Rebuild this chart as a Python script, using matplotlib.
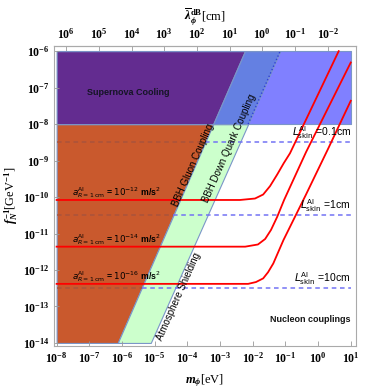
import numpy as np
import matplotlib.pyplot as plt

plt.rcParams["font.family"] = "Liberation Serif"
plt.rcParams["mathtext.fontset"] = "custom"
plt.rcParams["mathtext.rm"] = "Liberation Serif:bold"
plt.rcParams["mathtext.it"] = "Liberation Serif:italic:bold"
plt.rcParams["mathtext.bf"] = "Liberation Serif:bold"

# ---- data, all log10 values ----
mass_range = [-8.0, 1.0]            # log10 m_phi [eV]
supernova_f = [-8.0, -6.0]          # log10 f_N^-1 band excluded by SN cooling

bound_f = [-14.0, -8.0, -6.0]
gluon_m = [-6.13, -3.21, -2.24]     # BBH gluon coupling edge
down_quark_m = [-5.12, -2.14, -1.16]  # BBH down quark coupling / atmosphere edge

skin_f = [-8.5, -10.5, -12.5]
skin_labels = ["0.1cm", "1cm", "10cm"]

acc_labels = ["-12", "-14", "-16"]
curve_m = [
    [-8.0, -2.39, -1.93, -1.68, -1.47, -1.25, -1.05, -0.86, 0.63],
    [-8.0, -2.23, -1.84, -1.62, -1.44, -1.25, -1.04, -0.37, 1.0],
    [-8.0, -2.14, -1.90, -1.68, -1.53, -1.37, -1.22, -1.06, -0.38, 0.31, 1.0],
]
curve_f = [
    [-10.08, -10.08, -10.04, -9.93, -9.70, -9.38, -9.07, -8.80, -6.0],
    [-11.36, -11.36, -11.30, -11.15, -10.90, -10.54, -10.08, -8.77, -6.31],
    [-12.38, -12.38, -12.33, -12.23, -12.06, -11.82, -11.51, -11.18, -9.95, -8.67, -7.36],
]

x_ticks = np.arange(-8, 2)
y_ticks = np.arange(-14, -5)
lam_ticks = np.arange(6, -3, -1)

HBAR_C = 1.97e-5   # eV cm
V_DM = 1e-3


def p(v):
    return 10.0 ** np.asarray(v, dtype=float)


def m_to_lam(m):
    m = np.asarray(m, dtype=float)
    with np.errstate(divide="ignore"):
        return HBAR_C / (V_DM * m)


def log_interp(f_val, f_pts, m_pts):
    return 10.0 ** np.interp(f_val, f_pts, m_pts)


fig = plt.figure(figsize=(3.74, 3.88), dpi=100)
ax = fig.add_axes([54 / 374, 1 - 345.5 / 388, 302 / 374, 299.8 / 388])
ax.set_xscale("log")
ax.set_yscale("log")
ax.set_xlim(10 ** -8.08, 10 ** 1.16)
ax.set_ylim(10 ** -14.07, 10 ** -5.85)

edge = "#7b96c8"
lo_f, mid_f, hi_f = p(bound_f)
m_lo, m_hi = p(mass_range)

# supernova band across the whole mass range
ax.fill_between(p(mass_range), p(supernova_f[0]), p(supernova_f[1]),
                facecolor="#8080ff", edgecolor=edge, lw=0.8, zorder=1)
# gluon region
ax.fill_betweenx(p(bound_f[:2]), m_lo, p(gluon_m[:2]),
                 facecolor="#c9592d", edgecolor=edge, lw=0.8, zorder=1.1)
ax.fill_betweenx(p(bound_f[1:]), m_lo, p(gluon_m[1:]),
                 facecolor="#632c90", edgecolor=edge, lw=0.8, zorder=1.1)
# down quark band
ax.fill_betweenx(p(bound_f[:2]), p(gluon_m[:2]), p(down_quark_m[:2]),
                 facecolor="#ccffcc", edgecolor=edge, lw=0.8, zorder=1.1)
ax.fill_betweenx(p(bound_f[1:]), p(gluon_m[1:]), p(down_quark_m[1:]),
                 facecolor="#6480e2", edgecolor=edge, lw=0.8, zorder=1.1)
ax.plot(p(down_quark_m[1:]), p(bound_f[1:]), ls=":", color="#2f3fd6", lw=1.0, zorder=1.2)

# skin depth lines
dash = (0, (3, 2.4))
for f_val, lab in zip(skin_f, skin_labels):
    cross = log_interp(f_val, bound_f, gluon_m)
    ax.plot([m_lo, cross], [p(f_val)] * 2, ls=dash, color="#a9533c", lw=1.1, zorder=2)
    ax.plot([cross, m_hi], [p(f_val)] * 2, ls=dash, color="#7373f4", lw=1.1, zorder=2)
for f_val, lab in zip(skin_f, skin_labels):
    ax.text(m_hi, p(f_val + 0.27), r"$L^{\rm Al}_{\rm skin}$ =" + lab, ha="right", va="center",
            fontsize=7.5, family="Liberation Sans", math_fontfamily="dejavusans", zorder=5)

# acceleration sensitivity curves
for cm, cf, lab in zip(curve_m, curve_f, acc_labels):
    ax.plot(p(cm), p(cf), color="#ff0000", lw=1.3, zorder=4)
    ax.text(10 ** -7.52, p(cf[0] + 0.19),
            r"$a^{\rm Al}_{R=1\,\rm cm}$ = $10^{" + lab + r"}$ m/s$^2$",
            ha="left", va="center", fontsize=6.3, fontweight="bold",
            family="Liberation Sans", math_fontfamily="dejavusans", zorder=5)


def edge_angle(m_pts):
    a = ax.transData.transform((p(m_pts[0]), lo_f))
    b = ax.transData.transform((p(m_pts[-1]), hi_f))
    return np.degrees(np.arctan2(b[1] - a[1], b[0] - a[0]))


txt = dict(family="Liberation Sans", fontsize=7, ha="center", va="center",
           rotation_mode="anchor", zorder=5)
ax.text(10 ** -3.82, 10 ** -9.12, "BBH Gluon Coupling", rotation=edge_angle(gluon_m), **txt)
ax.text(10 ** -2.72, 10 ** -8.66, "BBH Down Quark Coupling", rotation=edge_angle(down_quark_m), **txt)
ax.text(10 ** -4.25, 10 ** -12.74, "Atmosphere Shielding", rotation=edge_angle(down_quark_m), **txt)
ax.text(10 ** -5.81, 10 ** -7.12, "Supernova Cooling", family="Liberation Sans", fontsize=6.5,
        fontweight="bold", ha="center", va="center", color="#151525", zorder=5)
ax.text(m_hi, 10 ** -13.37, "Nucleon couplings", family="Liberation Sans", fontsize=6.5,
        fontweight="bold", ha="right", va="center", color="#151515", zorder=5)

# axes styling
for s in ax.spines.values():
    s.set_color("#aaaaaa")
    s.set_linewidth(0.8)
ax.set_xticks(p(x_ticks))
ax.set_xticklabels([r"$10^{%d}$" % t for t in x_ticks])
ax.set_yticks(p(y_ticks))
ax.set_yticklabels([r"$10^{%d}$" % t for t in y_ticks])
ax.minorticks_off()
ax.tick_params(which="both", direction="in", length=3.5, width=0.6, color="#999999",
               labelsize=8.5, pad=4)
ax.tick_params(axis="y", pad=3)

top = ax.secondary_xaxis("top", functions=(m_to_lam, m_to_lam))
top.set_xticks(p(lam_ticks))
top.set_xticklabels([r"$10^{%d}$" % t for t in lam_ticks])
top.minorticks_off()
top.spines["top"].set_color("#aaaaaa")
top.tick_params(which="both", direction="in", length=3.5, width=0.6, color="#999999",
                labelsize=8.5, pad=3)
top.set_xlabel(r"$\overline{\lambda}_\phi^{\rm dB}$[cm]", fontsize=9, labelpad=5)

ax.set_xlabel(r"$m_\phi$[eV]", fontsize=9, labelpad=5)
ax.set_ylabel(r"$f_N^{-1}$[GeV$^{-1}$]", fontsize=9, labelpad=2)

fig.savefig("out.png", dpi=100)
